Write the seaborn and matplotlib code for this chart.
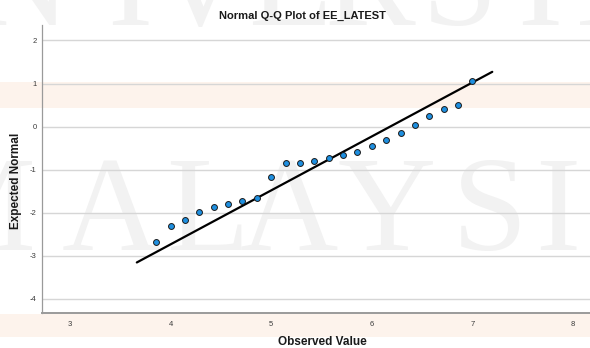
import numpy as np
import pandas as pd
import matplotlib
matplotlib.use("Agg")
import matplotlib.pyplot as plt
from matplotlib.patches import Rectangle
import seaborn as sns

# ---- data ----
observed = [3.857, 4.0, 4.143, 4.286, 4.429, 4.571, 4.714, 4.857, 5.0,
            5.143, 5.286, 5.429, 5.571, 5.714, 5.857, 6.0, 6.143, 6.286,
            6.429, 6.571, 6.714, 6.857, 7.0]
expected = [-2.67, -2.32, -2.16, -1.99, -1.87, -1.80, -1.72, -1.67, -1.17,
            -0.85, -0.84, -0.80, -0.73, -0.67, -0.59, -0.45, -0.30, -0.16,
            0.03, 0.25, 0.40, 0.51, 1.06]
line_x = [3.663, 7.198]
line_y = [-3.156, 1.272]
x_ticks = [3, 4, 5, 6, 7, 8]
y_ticks = [-4, -3, -2, -1, 0, 1, 2]

pts = pd.DataFrame({"Observed Value": observed, "Expected Normal": expected})
ref = pd.DataFrame({"x": line_x, "y": line_y})

sns.set_theme(style="white")
plt.rcParams["font.family"] = ["Liberation Sans", "DejaVu Sans"]

W, H = 590, 348
fig = plt.figure(figsize=(W / 100, H / 100), dpi=100)
fig.patch.set_facecolor("white")

# faint background bands / watermark
band_col = "#fdf3ec"
fig.patches.append(Rectangle((0, 1 - 108 / H), 1, 26 / H, transform=fig.transFigure,
                             facecolor=band_col, edgecolor="none", zorder=-5))
fig.patches.append(Rectangle((0, 1 - 337 / H), 1, 23 / H, transform=fig.transFigure,
                             facecolor=band_col, edgecolor="none", zorder=-5))
wm_col = "#f2f2f2"
for ch, cx in zip("MALAYSIA", [-25, 111, 208, 289, 387, 490, 558, 650]):
    fig.text(cx / W, 1 - 250 / H, ch, fontsize=98, family="Liberation Serif",
             color=wm_col, ha="center", va="baseline", zorder=-4)
for ch, cx in zip("NIVERSITI", [20, 130, 200, 290, 370, 460, 540, 600, 660]):
    fig.text(cx / W, 1 - 25 / H, ch, fontsize=98, family="Liberation Serif",
             color=wm_col, ha="center", va="baseline", zorder=-4)

ax = fig.add_axes([42 / W, 1 - 313 / H, (W - 42) / W, (313 - 25) / H])
ax.set_facecolor("none")

sns.lineplot(data=ref, x="x", y="y", ax=ax, color="black", linewidth=1.6,
             zorder=3, sort=False)
sns.scatterplot(data=pts, x="Observed Value", y="Expected Normal", ax=ax,
                s=18, color="#1e8fe0", edgecolor="#1a1a1a", linewidth=0.7,
                zorder=4)

ax.set_xlim(2.72, 8.17)
ax.set_ylim(-4.33, 2.36)
ax.set_xticks(x_ticks)
ax.set_yticks(y_ticks)
ax.set_xticklabels([str(t) for t in x_ticks])
ax.set_yticklabels([str(t) for t in y_ticks])
ax.tick_params(axis="both", length=0, labelsize=5.5, labelcolor="#3a3a3a")
ax.tick_params(axis="x", pad=6)
ax.tick_params(axis="y", pad=4)
ax.yaxis.grid(True, color="#d6d6d6", linewidth=1.0)
ax.xaxis.grid(False)
ax.set_axisbelow(True)
for side in ["top", "right"]:
    ax.spines[side].set_visible(False)
ax.spines["left"].set_color("#9a9a9a")
ax.spines["left"].set_linewidth(0.9)
ax.spines["bottom"].set_color("#9a9a9a")
ax.spines["bottom"].set_linewidth(1.4)
ax.set_xlabel("")
ax.set_ylabel("")

fig.text(302 / W, 1 - 16 / H, "Normal Q-Q Plot of EE_LATEST", ha="center",
         va="center", fontsize=8, fontweight="bold", color="#1a1a1a")
fig.text(322 / W, 1 - 342 / H, "Observed Value", ha="center", va="center",
         fontsize=8.5, fontweight="bold", color="#1a1a1a")
fig.text(16 / W, 1 - 181 / H, "Expected Normal", ha="center", va="center",
         rotation=90, fontsize=8.5, fontweight="bold", color="#1a1a1a")

fig.savefig("out.png", dpi=100)
